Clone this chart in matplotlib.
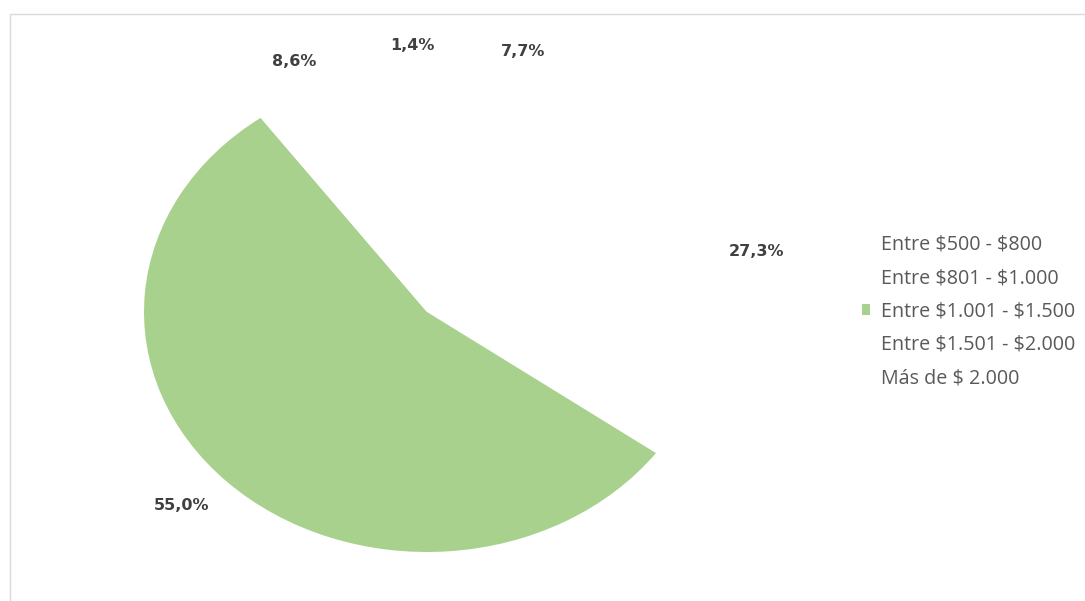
import matplotlib
matplotlib.use("Agg")
import matplotlib.pyplot as plt
from matplotlib.patches import Rectangle

categories = ["Entre $500 - $800", "Entre $801 - $1.000", "Entre $1.001 - $1.500",
              "Entre $1.501 - $2.000", "Más de $ 2.000"]
values = [7.7, 27.3, 55.0, 8.6, 1.4]
value_labels = ["7,7%", "27,3%", "55,0%", "8,6%", "1,4%"]
colors = ["white", "white", "#A9D18E", "white", "white"]

# label positions (figure pixel coords, from top-left), positioned by hand in the source chart
label_pos_px = [(523, 51), (757, 251), (182, 505), (294, 61), (412, 46)]

W, H = 1085, 601
fig = plt.figure(figsize=(W / 100, H / 100), dpi=100)
fig.patch.set_facecolor("white")

# chart frame (only top and left visible)
fig.add_artist(Rectangle((10 / W, -0.1), 1.2, (H - 14) / H + 0.1, transform=fig.transFigure,
                         fill=False, edgecolor="#D9D9D9", linewidth=1.0))

cx, cy, rx, ry = 427, 312, 283, 240
ax = fig.add_axes([(cx - rx) / W, (H - cy - ry) / H, 2 * rx / W, 2 * ry / H])
wedges, _ = ax.pie(values, colors=colors, startangle=90, counterclock=False,
                   radius=1.0, wedgeprops=dict(linewidth=0))
ax.set_aspect("auto")
ax.set_xlim(-1, 1)
ax.set_ylim(-1, 1)
ax.axis("off")

for lab, (px, py) in zip(value_labels, label_pos_px):
    fig.text(px / W, 1 - py / H, lab, ha="center", va="center", fontsize=11.5,
             fontweight="bold", color="#404040", family="DejaVu Sans")

legend_labels = [c.replace("$", r"\$") for c in categories]
leg = fig.legend(wedges, legend_labels, loc="center left",
                 bbox_to_anchor=(862 / W, 1 - 311.5 / H), frameon=False,
                 prop={"family": "Open Sans", "size": 14.2},
                 labelcolor="#595959", handlelength=0.42, handleheight=0.42,
                 handletextpad=0.55, labelspacing=0.68, borderpad=0, borderaxespad=0)

fig.savefig("out.png", dpi=100, facecolor="white")
